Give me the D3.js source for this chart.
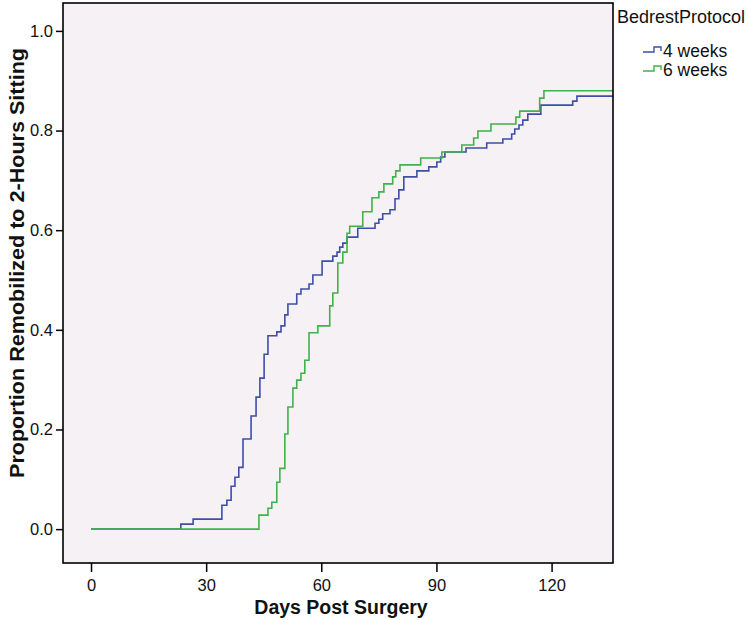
<!DOCTYPE html>
<html>
<head>
<meta charset="utf-8">
<script src="https://cdnjs.cloudflare.com/ajax/libs/d3/7.8.5/d3.min.js"></script>
<style>
  body { margin: 0; background: #fff; }
  svg { font-family: "Liberation Sans", Arial, sans-serif; }
</style>
</head>
<body>
<div id="chart"></div>
<script>
// cumulative proportion remobilized (step points)
const fourWeekDays = [0, 23.4, 26.6, 34.1, 35.4, 36.5, 37.5, 38.5, 39.6, 41.7, 43.0, 44.0, 45.1, 46.1,
  48.4, 49.5, 50.5, 51.3, 53.6, 54.7, 56.8, 57.8, 60.2, 63.0, 64.1, 64.8, 65.6, 66.7, 69.5, 74.0,
  75.0, 76.0, 77.9, 79.2, 80.2, 81.5, 84.9, 88.0, 90.1, 91.1, 92.2, 97.7, 103.1, 107.3, 109.6,
  110.4, 111.5, 112.5, 113.8, 117.2, 125.5, 126.6];
const fourWeekProp = [0, 0.010, 0.020, 0.048, 0.058, 0.086, 0.104, 0.124, 0.181, 0.227, 0.265, 0.303, 0.351, 0.388,
  0.396, 0.408, 0.430, 0.452, 0.472, 0.482, 0.492, 0.510, 0.538, 0.548, 0.556, 0.566, 0.574, 0.586, 0.604, 0.614,
  0.622, 0.633, 0.641, 0.663, 0.681, 0.707, 0.719, 0.727, 0.737, 0.747, 0.757, 0.765, 0.775, 0.783, 0.793,
  0.803, 0.811, 0.821, 0.833, 0.851, 0.859, 0.869];

const sixWeekDays = [0, 43.75, 46.1, 47.1, 48.4, 49.2, 50.5, 51.3, 52.6, 53.6, 54.7, 55.7, 56.8, 59.1,
  62.2, 63.0, 64.3, 65.6, 66.7, 67.4, 70.8, 73.2, 75.0, 76.3, 78.6, 79.4, 80.5, 85.9, 91.4, 96.6,
  99.7, 100.8, 104.2, 110.7, 111.7, 116.9, 118.0];
const sixWeekProp = [0, 0.028, 0.042, 0.054, 0.094, 0.122, 0.191, 0.245, 0.283, 0.299, 0.313, 0.339, 0.394, 0.408,
  0.448, 0.474, 0.534, 0.556, 0.594, 0.608, 0.637, 0.665, 0.677, 0.693, 0.707, 0.719, 0.731, 0.745, 0.757, 0.771,
  0.785, 0.799, 0.813, 0.827, 0.839, 0.865, 0.880];

const groups = ["4 weeks", "6 weeks"];
const groupColors = ["#3d4fa6", "#3fb34a"];
const xTicks = [0, 30, 60, 90, 120];
const yTicks = [0, 0.2, 0.4, 0.6, 0.8, 1.0];

const width = 750;
const height = 620;
const plot = { left: 63, right: 613, top: 3, bottom: 563 };

const svg = d3
  .select("#chart")
  .append("svg")
  .attr("width", width)
  .attr("height", height);

const xScale = d3.scaleLinear().domain([-7.3, 136]).range([plot.left, plot.right]);
const yScale = d3.scaleLinear().domain([-0.068, 1.056]).range([plot.bottom, plot.top]);

svg
  .append("rect")
  .attr("x", plot.left)
  .attr("y", plot.top)
  .attr("width", plot.right - plot.left)
  .attr("height", plot.bottom - plot.top)
  .attr("fill", "#f5f1f5");

const series = [
  fourWeekDays.map((d, i) => [d, fourWeekProp[i]]),
  sixWeekDays.map((d, i) => [d, sixWeekProp[i]])
];
// carry the last value to the right edge of the plot
series.forEach(s => s.push([xScale.domain()[1], s[s.length - 1][1]]));

const line = d3
  .line()
  .x(d => xScale(d[0]))
  .y(d => yScale(d[1]))
  .curve(d3.curveStepAfter);

svg
  .selectAll("path.km")
  .data(series)
  .enter()
  .append("path")
  .attr("class", "km")
  .attr("fill", "none")
  .attr("stroke", (d, i) => groupColors[i])
  .attr("stroke-width", 1.6)
  .attr("d", line);

// axes
const xAxis = g =>
  g
    .attr("transform", `translate(0, ${plot.bottom})`)
    .call(d3.axisBottom(xScale).tickValues(xTicks).tickSize(9).tickPadding(7));
const yAxis = g =>
  g
    .attr("transform", `translate(${plot.left}, 0)`)
    .call(d3.axisLeft(yScale).tickValues(yTicks).tickFormat(d3.format(".1f")).tickSize(7).tickPadding(3));

svg.append("g").call(xAxis);
svg.append("g").call(yAxis);

svg.selectAll(".domain").remove();
svg.selectAll(".tick line").attr("stroke", "#000").attr("stroke-width", 1.5);
svg.selectAll(".tick text").attr("font-size", 16.5).attr("fill", "#111");

svg
  .append("rect")
  .attr("x", plot.left)
  .attr("y", plot.top)
  .attr("width", plot.right - plot.left)
  .attr("height", plot.bottom - plot.top)
  .attr("fill", "none")
  .attr("stroke", "#000")
  .attr("stroke-width", 1.6);

// titles
svg
  .append("text")
  .attr("x", 341)
  .attr("y", 614)
  .attr("text-anchor", "middle")
  .attr("font-size", 19.5)
  .attr("font-weight", "bold")
  .attr("fill", "#111")
  .text("Days Post Surgery");

svg
  .append("text")
  .attr("transform", `translate(24, 263) rotate(-90)`)
  .attr("text-anchor", "middle")
  .attr("font-size", 19.5)
  .attr("font-weight", "bold")
  .attr("fill", "#111")
  .attr("textLength", 430)
  .attr("lengthAdjust", "spacingAndGlyphs")
  .text("Proportion Remobilized to 2-Hours Sitting");

// legend
const legend = svg.append("g").attr("transform", "translate(617, 0)");
legend
  .append("text")
  .attr("x", 0)
  .attr("y", 23)
  .attr("font-size", 18)
  .attr("fill", "#111")
  .text("BedrestProtocol");

const legendItem = legend
  .selectAll("g.item")
  .data(groups)
  .enter()
  .append("g")
  .attr("class", "item")
  .attr("transform", (d, i) => `translate(26, ${52 + i * 19})`);

legendItem
  .append("path")
  .attr("fill", "none")
  .attr("stroke", (d, i) => groupColors[i])
  .attr("stroke-width", 1.4)
  .attr("d", "M0,0H11V-5H18V-1");

legendItem
  .append("text")
  .attr("x", 20)
  .attr("y", 5)
  .attr("font-size", 17.5)
  .attr("fill", "#111")
  .text(d => d);
</script>
</body>
</html>
